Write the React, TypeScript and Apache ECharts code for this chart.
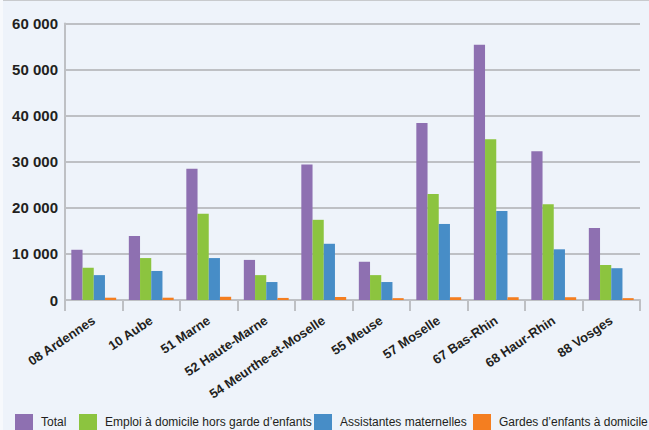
import React, { useEffect, useRef } from "react";
import * as echarts from "echarts";

const categories = [
  "08 Ardennes",
  "10 Aube",
  "51 Marne",
  "52 Haute-Marne",
  "54 Meurthe-et-Moselle",
  "55 Meuse",
  "57 Moselle",
  "67 Bas-Rhin",
  "68 Haur-Rhin",
  "88 Vosges",
];
const seriesNames = [
  "Total",
  "Emploi à domicile hors garde d’enfants",
  "Assistantes maternelles",
  "Gardes d’enfants à domicile",
];
const total = [10900, 13900, 28500, 8700, 29400, 8300, 38400, 55400, 32300, 15600];
const emploi = [7000, 9100, 18700, 5400, 17400, 5400, 23000, 34900, 20800, 7600];
const assistantes = [5400, 6300, 9100, 3900, 12200, 3900, 16500, 19300, 11000, 6900];
const gardes = [500, 500, 700, 450, 650, 400, 600, 600, 600, 400];
const yTicks = { min: 0, max: 60000, interval: 10000 };

const FONT = "Liberation Sans, Arial, sans-serif";
const GRID = "#BEC0C4";
const TEXT = "#231F20";
const COLORS = ["#8E70B1", "#8CC43F", "#478DC7", "#F47E20"];
const legendLefts = [15, 79, 314, 473];

export default function App() {
  const ref = useRef<HTMLDivElement>(null);
  useEffect(() => {
    if (!ref.current) return;
    const chart = echarts.init(ref.current, undefined, { renderer: "svg" });
    const datasets = [total, emploi, assistantes, gardes];
    chart.setOption({
      animation: false,
      backgroundColor: "#EEF3FA",
      textStyle: { fontFamily: FONT },
      grid: { left: 65, right: 9, top: 23.5, bottom: 130, containLabel: false },
      legend: seriesNames.map((n, i) => ({
        left: legendLefts[i],
        top: 414,
        padding: 0,
        itemWidth: 18,
        itemHeight: 16,
        icon: "rect",
        selectedMode: false,
        textStyle: { fontFamily: FONT, fontSize: 12, color: TEXT, padding: [0, 0, 0, 3] },
        data: [n],
      })),
      xAxis: {
        type: "category",
        data: categories,
        axisLine: { lineStyle: { color: GRID, width: 2 } },
        axisTick: { show: true, length: 11, lineStyle: { color: GRID, width: 2 } },
        axisLabel: {
          rotate: 34,
          interval: 0,
          margin: 19,
          fontFamily: FONT,
          fontSize: 13,
          fontWeight: "bold",
          color: TEXT,
        },
      },
      yAxis: {
        type: "value",
        min: yTicks.min,
        max: yTicks.max,
        interval: yTicks.interval,
        axisLine: { show: true, lineStyle: { color: GRID, width: 2 } },
        axisTick: { show: false },
        splitLine: { lineStyle: { color: GRID, width: 2 } },
        axisLabel: {
          margin: 7,
          fontFamily: FONT,
          fontSize: 15,
          fontWeight: "bold",
          color: TEXT,
          formatter: (v: number) => (v === 0 ? "0" : String(v / 1000) + " 000"),
        },
      },
      series: seriesNames.map((n, i) => ({
        name: n,
        type: "bar",
        data: datasets[i],
        barGap: "0%",
        barCategoryGap: "22%",
        itemStyle: { color: COLORS[i] },
      })),
      graphic: [
        { type: "rect", shape: { x: 0, y: 0, width: 649, height: 1 }, style: { fill: "#C8CACD" } },
        { type: "rect", shape: { x: 0, y: 0, width: 3, height: 430 }, style: { fill: "#F7F9FC" } },
      ],
    });
    return () => chart.dispose();
  }, []);
  return <div ref={ref} style={{ width: 649, height: 430, position: "absolute", left: 0, top: 0 }} />;
}
